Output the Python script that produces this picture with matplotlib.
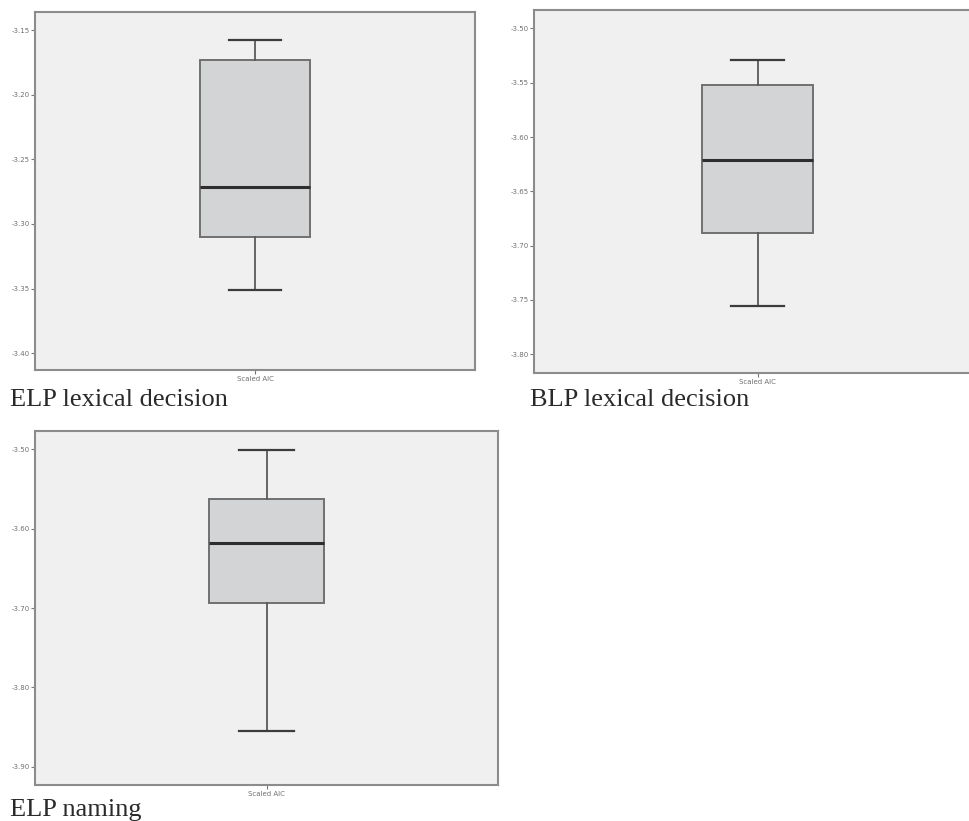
import matplotlib
matplotlib.use("Agg")
import matplotlib.pyplot as plt

W, H = 969, 821
DPI = 100

# ---- data (box-plot summary statistics) ----
titles = ["ELP lexical decision", "BLP lexical decision", "ELP naming"]
category = "Scaled AIC"
whislo = [-3.351, -3.7555, -3.855]
q1 = [-3.310, -3.688, -3.694]
med = [-3.2715, -3.6216, -3.6185]
q3 = [-3.173, -3.5525, -3.5626]
whishi = [-3.1577, -3.5292, -3.501]
yticks = [
    [-3.40, -3.35, -3.30, -3.25, -3.20, -3.15],
    [-3.80, -3.75, -3.70, -3.65, -3.60, -3.55, -3.50],
    [-3.90, -3.80, -3.70, -3.60, -3.50],
]
ylims = [(-3.413, -3.136), (-3.8172, -3.4831), (-3.923, -3.4769)]

# ---- layout (pixels: left, top, right, bottom) ----
boxes_px = [(35, 12, 475, 370), (534, 10, 981, 373), (35, 431, 498, 785)]
caption_px = [(10, 406), (530, 406), (10, 816)]

fig = plt.figure(figsize=(W / DPI, H / DPI), dpi=DPI)
fig.patch.set_facecolor("white")

for i in range(3):
    l, t, r, b = boxes_px[i]
    ax = fig.add_axes([l / W, 1 - b / H, (r - l) / W, (b - t) / H])
    ax.set_facecolor("#eff0ef")
    stats = [dict(whislo=whislo[i], q1=q1[i], med=med[i], q3=q3[i],
                  whishi=whishi[i], label=category, fliers=[])]
    ax.bxp(stats, positions=[1], widths=0.5, capwidths=0.24, patch_artist=True,
           showfliers=False,
           boxprops=dict(facecolor="#d3d4d5", edgecolor="#707070", linewidth=1.4),
           whiskerprops=dict(color="#5a5a5a", linewidth=1.3),
           capprops=dict(color="#3c3c3c", linewidth=1.6),
           medianprops=dict(color="#2e2e2e", linewidth=2.2))
    ax.set_xlim(0, 2)
    ax.set_ylim(*ylims[i])
    ax.set_yticks(yticks[i])
    ax.set_yticklabels([f"{v:.2f}" for v in yticks[i]])
    ax.tick_params(axis="y", direction="out", length=3, width=0.8,
                   colors="#777777", labelsize=5, pad=1)
    ax.tick_params(axis="x", direction="out", length=3, width=0.8,
                   colors="#777777", labelsize=5, pad=1.5)
    for lab in ax.get_yticklabels() + ax.get_xticklabels():
        lab.set_color("#707070")
    for s in ax.spines.values():
        s.set_color("#8c8c8c")
        s.set_linewidth(1.5)
    cx, cy = caption_px[i]
    fig.text(cx / W, 1 - cy / H, titles[i], family="Liberation Serif",
             fontsize=19, color="#2a2a2a", ha="left", va="baseline")

fig.savefig("out.png", dpi=DPI, facecolor="white")
